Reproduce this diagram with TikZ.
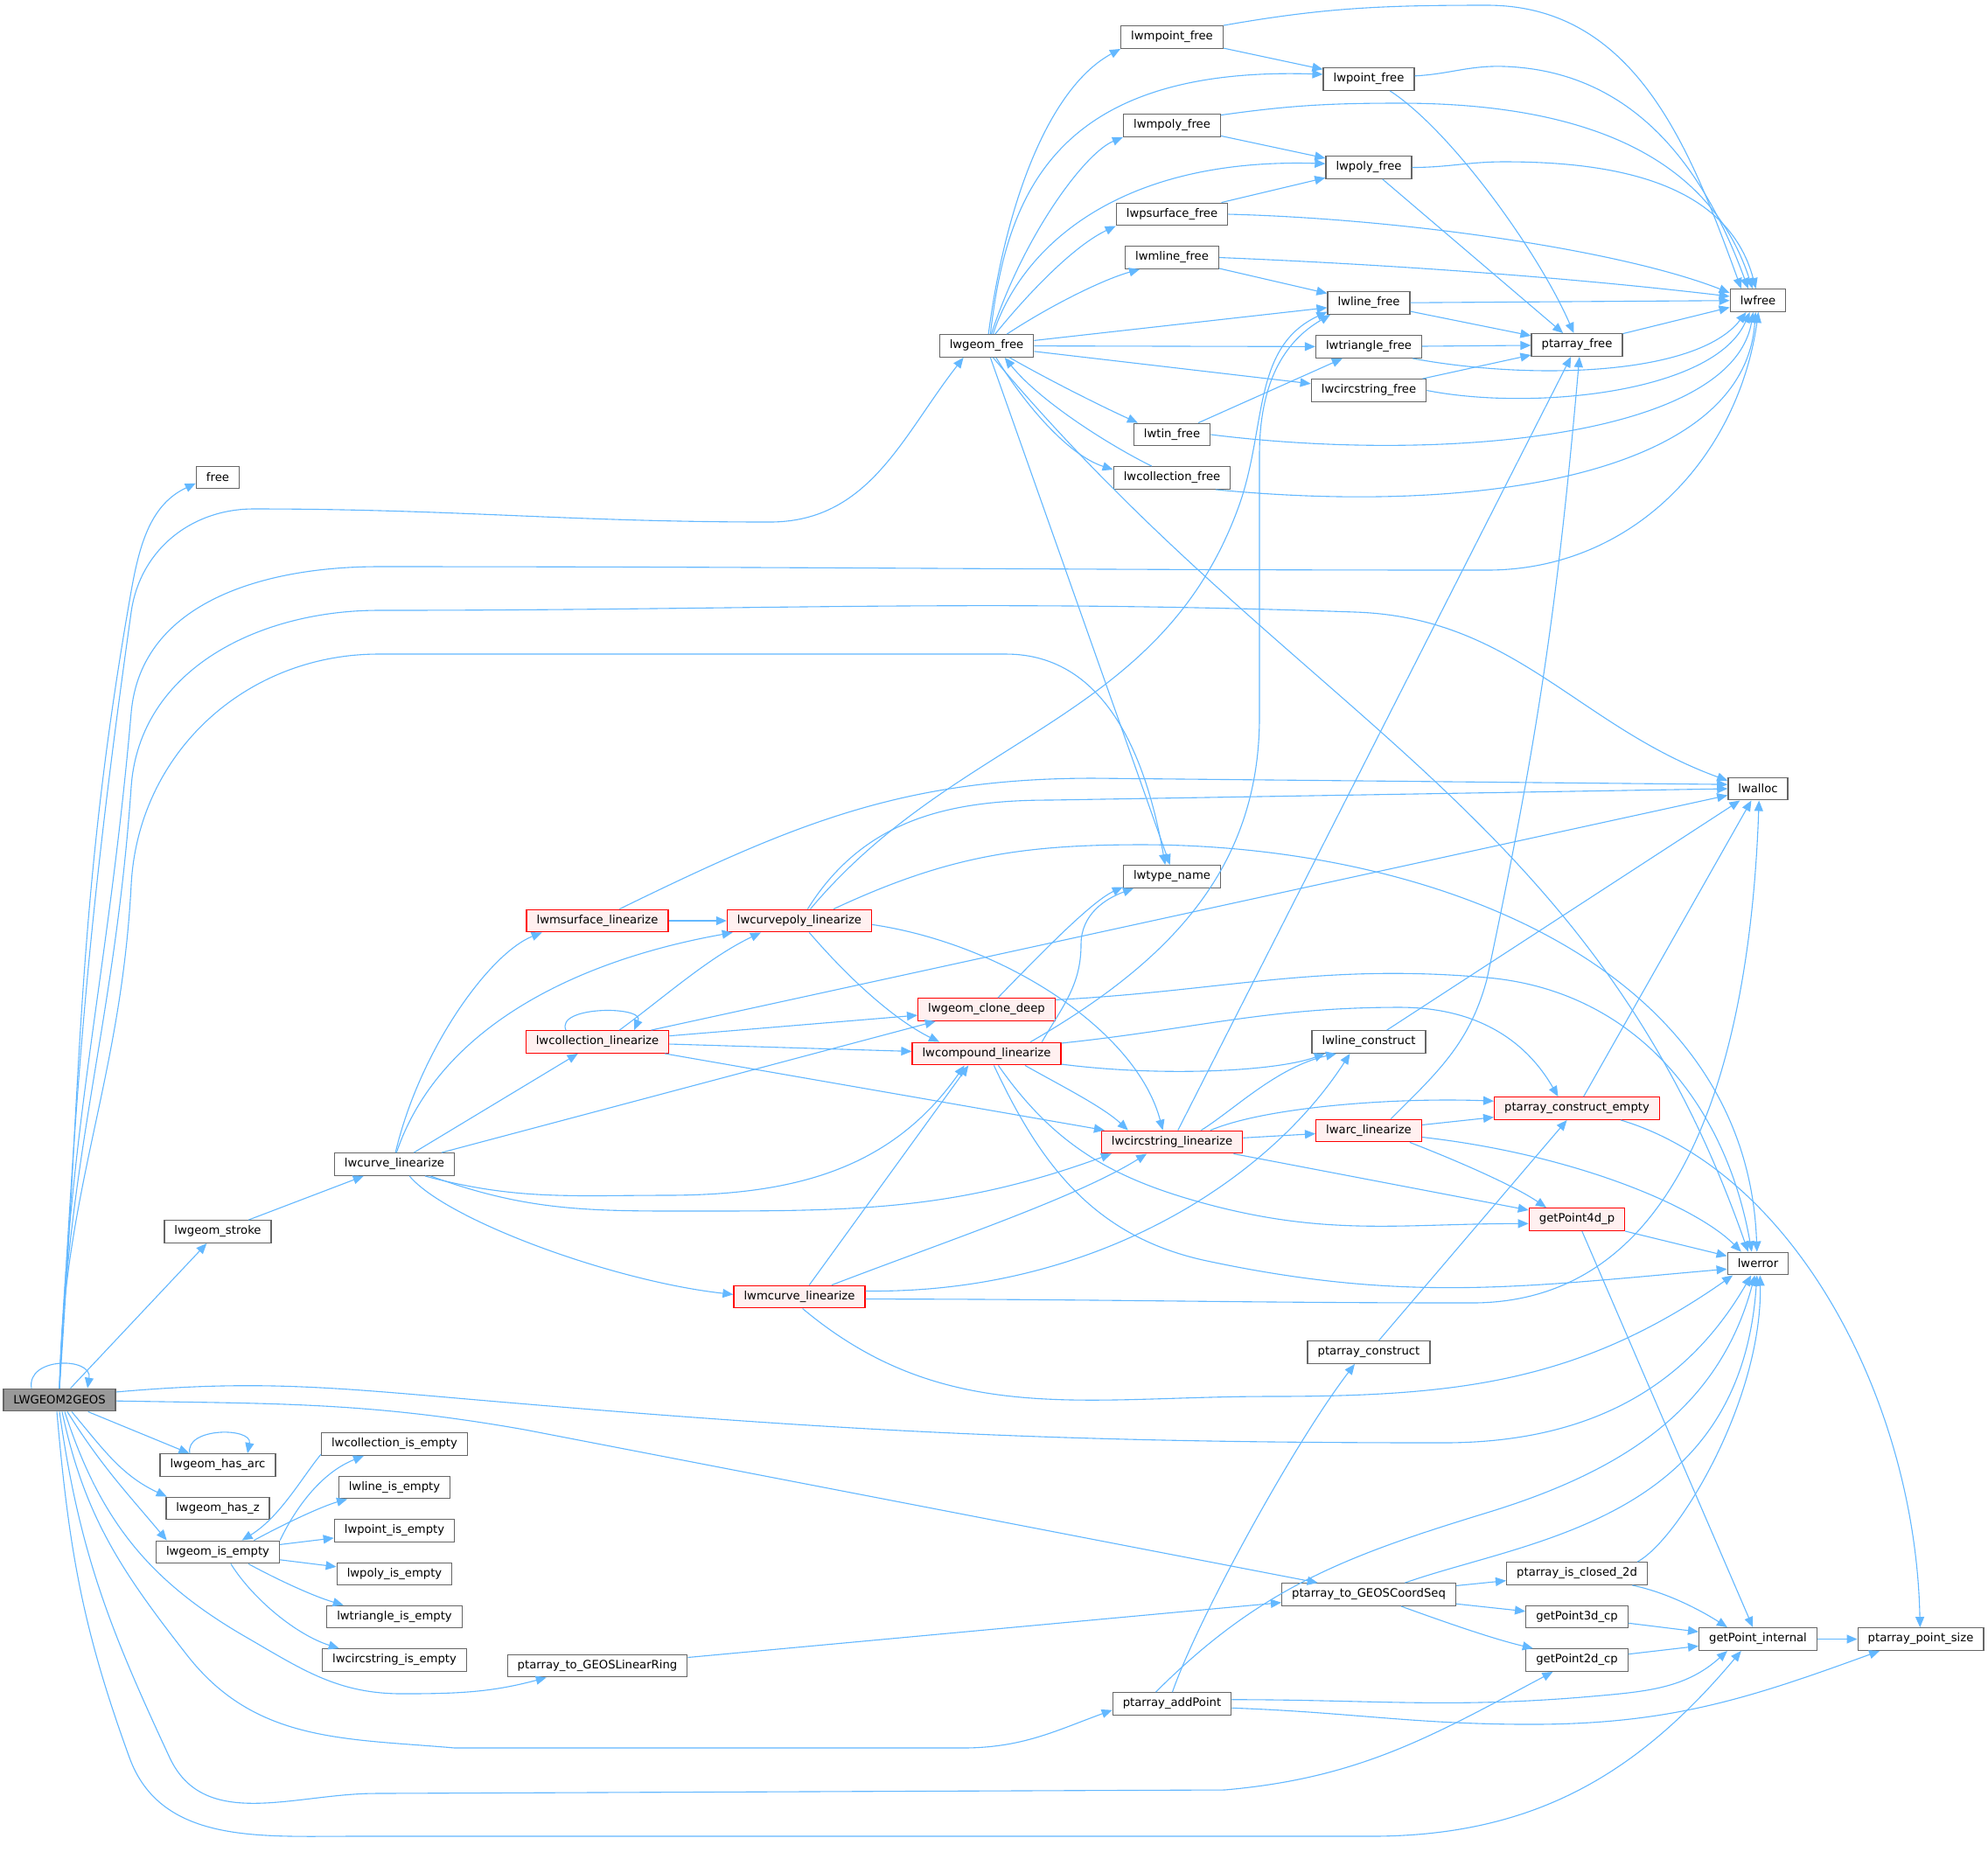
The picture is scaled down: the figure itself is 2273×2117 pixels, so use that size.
\documentclass[tikz,border=0pt]{standalone}
\usepackage{fontspec}
\setmainfont{DejaVu Sans}
\usetikzlibrary{arrows.meta,calc}
\definecolor{eb}{HTML}{63B8FF}
\definecolor{ng}{HTML}{666666}
\definecolor{rf}{HTML}{FFF0F0}
\definecolor{gf}{HTML}{999999}
\newcommand\nfs{\fontsize{6.6pt}{8pt}\selectfont}
\tikzset{
  nb/.style={draw=ng, line width=0.7pt, fill=white, minimum height=12.75pt, inner xsep=5.75pt, inner ysep=0pt, font=\nfs, text=black},
  rb/.style={nb, draw=red, fill=rf},
  gb/.style={nb, fill=gf},
  arr/.style={draw=eb, line width=0.55pt, -{Triangle[length=6pt,width=5pt]}}
}
\begin{document}
\begin{tikzpicture}[x=0.5pt,y=0.5pt]
\useasboundingbox (0,0) rectangle (2273,-2117);
\fill[white] (0,0) rectangle (2273,-2117);
% nodes
\node[gb] (g) at (68,-1601) {LWGEOM2GEOS};
\node[nb] (free) at (249,-546) {free};
\node[nb] (gfree) at (1128,-395.5) {lwgeom\_free};
\node[nb] (mpointf) at (1340,-42.5) {lwmpoint\_free};
\node[nb] (pointf) at (1565,-90.5) {lwpoint\_free};
\node[nb] (mpolyf) at (1340,-143.5) {lwmpoly\_free};
\node[nb] (polyf) at (1565,-191.5) {lwpoly\_free};
\node[nb] (psurff) at (1340,-245) {lwpsurface\_free};
\node[nb] (mlinef) at (1340,-294.5) {lwmline\_free};
\node[nb] (linef) at (1565,-346.5) {lwline\_free};
\node[nb] (trif) at (1565,-396.5) {lwtriangle\_free};
\node[nb] (circf) at (1565,-446.5) {lwcircstring\_free};
\node[nb] (tinf) at (1340,-497) {lwtin\_free};
\node[nb] (collf) at (1340,-546.5) {lwcollection\_free};
\node[nb] (lwfree) at (2010,-343.5) {lwfree};
\node[nb] (paf) at (1803,-394.5) {ptarray\_free};
\node[nb] (alloc) at (2010,-902) {lwalloc};
\node[nb] (tname) at (1340,-1002.5) {lwtype\_name};
\node[rb] (msurf) at (683,-1053) {lwmsurface\_linearize};
\node[rb] (cpoly) at (914,-1053) {lwcurvepoly\_linearize};
\node[rb] (clone) at (1128,-1154.5) {lwgeom\_clone\_deep};
\node[rb] (colllin) at (683,-1191.5) {lwcollection\_linearize};
\node[rb] (comp) at (1128,-1205) {lwcompound\_linearize};
\node[nb] (lcons) at (1565,-1191.5) {lwline\_construct};
\node[rb] (circlin) at (1340,-1306) {lwcircstring\_linearize};
\node[rb] (arc) at (1565,-1293) {lwarc\_linearize};
\node[rb] (pce) at (1803,-1267.5) {ptarray\_construct\_empty};
\node[nb] (curve) at (451,-1331.5) {lwcurve\_linearize};
\node[nb] (stroke) at (249,-1408.5) {lwgeom\_stroke};
\node[rb] (gp4d) at (1803,-1394.5) {getPoint4d\_p};
\node[nb] (lwerror) at (2010,-1445) {lwerror};
\node[rb] (mcurve) at (914,-1483) {lwmcurve\_linearize};
\node[nb] (pcons) at (1565,-1546.5) {ptarray\_construct};
\node[nb] (hasarc) at (249,-1675.5) {lwgeom\_has\_arc};
\node[nb] (hasz) at (249,-1725) {lwgeom\_has\_z};
\node[nb] (isempty) at (249,-1775) {lwgeom\_is\_empty};
\node[nb] (collie) at (451,-1651.5) {lwcollection\_is\_empty};
\node[nb] (lineie) at (451,-1701) {lwline\_is\_empty};
\node[nb] (pointie) at (451,-1750.5) {lwpoint\_is\_empty};
\node[nb] (polyie) at (451,-1800) {lwpoly\_is\_empty};
\node[nb] (trie) at (451,-1849) {lwtriangle\_is\_empty};
\node[nb] (circie) at (451,-1898.5) {lwcircstring\_is\_empty};
\node[nb] (linring) at (683,-1905) {ptarray\_to\_GEOSLinearRing};
\node[nb] (coordseq) at (1565,-1823.5) {ptarray\_to\_GEOSCoordSeq};
\node[nb] (closed) at (1803,-1799.5) {ptarray\_is\_closed\_2d};
\node[nb] (gp3d) at (1803,-1849) {getPoint3d\_cp};
\node[nb] (gp2d) at (1803,-1898.5) {getPoint2d\_cp};
\node[nb] (gpint) at (2010,-1874.5) {getPoint\_internal};
\node[nb] (pps) at (2196,-1874.5) {ptarray\_point\_size};
\node[nb] (addpt) at (1340,-1948.5) {ptarray\_addPoint};

% ---- LWGEOM2GEOS
\draw[arr] ($(g.north)+(-32,0)$) .. controls +(-6,36) and +(6,36) .. ($(g.north)+(32,0)$);
\draw[arr] (g.north) to[out=86,in=260] (150,-676) to[out=80,in=205] (free.195);
\draw[arr] (g.north) to[out=87,in=262] (150,-700) to[out=82,in=180] (290,-582) to[out=0,in=180] (880,-597) to[out=0,in=232] (gfree.207);
\draw[arr] (g.north) to[out=88,in=265] (150,-815) to[out=85,in=180] (433,-648) to[out=0,in=180] (1700,-652) to[out=0,in=262] (lwfree.272);
\draw[arr] (g.north) to[out=88,in=266] (150,-900) to[out=86,in=180] (433,-698) to[out=0,in=178] (1550,-700) to[out=-2,in=160] (alloc.165);
\draw[arr] (g.north) to[out=89,in=267] (150,-1012) to[out=87,in=180] (433,-748) to[out=0,in=180] (1150,-748) to[out=0,in=100] (tname.120);
\draw[arr] (g) -- (stroke);
\draw[arr] (g.8) to[out=5,in=175] (500,-1597) to[out=-5,in=180] (1650,-1650) to[out=0,in=240] (lwerror.240);
\draw[arr] (g.359) to[out=-1,in=170] (600,-1635) -- (coordseq.167);
\draw[arr] (g) -- (hasarc);
\draw[arr] ($(g.south)+(14,0)$) to[out=-50,in=155] (hasz.167);
\draw[arr] ($(g.south)+(9,0)$) to[out=-58,in=130] (isempty.167);
\draw[arr] ($(g.south)+(6,0)$) to[out=-72,in=150] (281,-1872) to[out=-30,in=180] (460,-1937) to[out=0,in=195] (linring.193);
\draw[arr] ($(g.south)+(3,0)$) to[out=-78,in=128] (214,-1893) to[out=-52,in=175] (520,-1999) -- (1100,-1999) to[out=0,in=200] (addpt.186);
\draw[arr] (g.south) to[out=-82,in=115] (194,-2010) to[out=-65,in=180] (430,-2051) -- (1400,-2047) to[out=5,in=208] (gp2d.206);
\draw[arr] ($(g.south)+(-3,0)$) to[out=-85,in=110] (148,-2010) to[out=-70,in=180] (400,-2100) -- (1567,-2100) to[out=0,in=230] (gpint.215);

% ---- lwgeom_free fan
\draw[arr] (gfree.81) .. controls (1150,-230) and (1200,-100) .. (mpointf.south west);
\draw[arr] (gfree.72) .. controls (1150,-230) and (1200,-75) .. (pointf.174);
\draw[arr] (gfree.68) .. controls (1170,-270) and (1240,-175) .. (mpolyf.south west);
\draw[arr] (gfree.61) .. controls (1165,-290) and (1270,-180) .. (polyf.175);
\draw[arr] (gfree.54) .. controls (1180,-330) and (1230,-280) .. (psurff.south west);
\draw[arr] (gfree.30) .. controls (1200,-350) and (1260,-320) .. (mlinef.200);
\draw[arr] (gfree) -- (linef);
\draw[arr] (gfree) -- (trif);
\draw[arr] (gfree) -- (circf);
\draw[arr] (gfree.333) .. controls (1200,-435) and (1260,-465) .. (tinf.161);
\draw[arr] (gfree.309) .. controls (1170,-460) and (1220,-520) .. (collf.172);
\draw[arr] (collf.150) .. controls (1270,-510) and (1190,-460) .. (gfree.327);
\draw[arr] (gfree.288) -- (tname.100);
\draw[arr] (gfree.299) .. controls (1482,-822) and (1822,-925) .. (lwerror.130);

% ---- free subgraph
\draw[arr] (mpointf) -- (pointf);
\draw[arr] (mpointf.north east) to[out=10,in=180] (1700,-6) to[out=0,in=110] (lwfree.145);
\draw[arr] (pointf.4) to[out=3,in=178] (1720,-76) to[out=-2,in=110] (lwfree.130);
\draw[arr] (pointf.331) .. controls (1660,-150) and (1760,-290) .. (paf.105);
\draw[arr] (mpolyf) -- (polyf);
\draw[arr] (mpolyf.12) to[out=8,in=180] (1600,-118) to[out=0,in=108] (lwfree.115);
\draw[arr] (polyf.east) to[out=0,in=180] (1720,-185) to[out=0,in=105] (lwfree.100);
\draw[arr] (polyf) -- (paf);
\draw[arr] (psurff) -- (polyf);
\draw[arr] (psurff.east) .. controls (1600,-250) and (1850,-285) .. (lwfree.165);
\draw[arr] (mlinef) -- (linef);
\draw[arr] (mlinef.east) .. controls (1600,-303) and (1800,-318) .. (lwfree.172);
\draw[arr] (linef) -- (lwfree);
\draw[arr] (linef) -- (paf);
\draw[arr] (trif) -- (paf);
\draw[arr] (trif.345) .. controls (1750,-435) and (1940,-430) .. (lwfree.225);
\draw[arr] (circf) -- (paf);
\draw[arr] (circf.east) .. controls (1750,-470) and (1960,-450) .. (lwfree.235);
\draw[arr] (tinf) -- (trif);
\draw[arr] (tinf.east) .. controls (1650,-530) and (1980,-500) .. (lwfree.248);
\draw[arr] (collf.345) .. controls (1700,-590) and (1995,-540) .. (lwfree.258);
\draw[arr] (paf) -- (lwfree);

% ---- linearize
\draw[arr] (stroke) -- (curve);
\draw[arr] (curve.85) .. controls (480,-1200) and (560,-1090) .. (msurf.192);
\draw[arr] (curve.80) .. controls (500,-1180) and (650,-1100) .. (cpoly.190);
\draw[arr] (curve) -- (colllin);
\draw[arr] (curve.14) -- (clone.193);
\draw[arr] (curve.339) to[out=-15,in=180] (760,-1367) to[out=0,in=235] (comp.208);
\draw[arr] (curve.342) to[out=-20,in=180] (793,-1385) to[out=0,in=200] (circlin.191);
\draw[arr] (curve.322) .. controls (510,-1395) and (700,-1465) .. (mcurve.178);
\draw[arr] (msurf) -- (cpoly);
\draw[arr] (msurf.28) to[out=26,in=180] (1250,-890) -- (alloc.172);
\draw[arr] (cpoly.55) to[out=58,in=180] (1200,-915) -- (alloc.180);
\draw[arr] (cpoly.47) to[out=50,in=250] (1416,-580) to[out=70,in=205] (linef.192);
\draw[arr] (cpoly.19) to[out=25,in=180] (1305,-966) to[out=0,in=92] (lwerror.95);
\draw[arr] (cpoly.310) .. controls (980,-1130) and (1030,-1170) .. (comp.166);
\draw[arr] (cpoly.357) .. controls (1150,-1080) and (1300,-1180) .. (circlin.128);
\draw[arr] ($(colllin.north)+(-36,0)$) .. controls +(-12,28) and +(12,28) .. ($(colllin.north)+(42,0)$);
\draw[arr] (colllin.28) .. controls (760,-1140) and (810,-1095) .. (cpoly.197);
\draw[arr] (colllin) -- (clone);
\draw[arr] (colllin) -- (comp);
\draw[arr] (colllin) -- (circlin);
\draw[arr] (colllin) -- (alloc);
\draw[arr] (clone.46) .. controls (1200,-1080) and (1250,-1030) .. (tname.192);
\draw[arr] (clone.8) to[out=3,in=175] (1700,-1118) to[out=-5,in=100] (lwerror.118);
\draw[arr] (comp.15) to[out=30,in=270] (1440,-820) -- (1440,-520) to[out=90,in=210] (linef.197);
\draw[arr] (comp.12) to[out=60,in=270] (1236,-1080) to[out=90,in=200] (tname.197);
\draw[arr] (comp.352) .. controls (1330,-1232) and (1460,-1225) .. (lcons.195);
\draw[arr] (comp.8) to[out=6,in=180] (1600,-1152) to[out=0,in=120] (pce.148);
\draw[arr] (comp.343) .. controls (1210,-1240) and (1260,-1265) .. (circlin.165);
\draw[arr] (comp.315) to[out=-55,in=165] (1380,-1377) to[out=-15,in=180] (gp4d.185);
\draw[arr] (comp.302) to[out=-65,in=168] (1380,-1442) to[out=-12,in=185] (lwerror.190);
\draw[arr] (lcons) -- (alloc);
\draw[arr] (mcurve.50) -- (comp.213);
\draw[arr] (mcurve.20) .. controls (1080,-1420) and (1230,-1370) .. (circlin.205);
\draw[arr] (mcurve.5) .. controls (1250,-1480) and (1450,-1350) .. (lcons.212);
\draw[arr] (mcurve.358) to[out=0,in=180] (1683,-1490) to[out=0,in=268] (alloc.275);
\draw[arr] (mcurve.285) to[out=-40,in=180] (1450,-1597) to[out=0,in=215] (lwerror.205);
\draw[arr] (circlin) -- (paf);
\draw[arr] (circlin.22) .. controls (1410,-1270) and (1460,-1220) .. (lcons.200);
\draw[arr] (circlin.17) .. controls (1450,-1265) and (1600,-1255) .. (pce.175);
\draw[arr] (circlin) -- (arc);
\draw[arr] (circlin) -- (gp4d);
\draw[arr] (arc.28) to[out=45,in=255] (1700,-1120) to[out=78,in=265] (paf.282);
\draw[arr] (arc) -- (pce);
\draw[arr] (arc.344) .. controls (1660,-1325) and (1730,-1355) .. (gp4d.159);
\draw[arr] (arc.353) .. controls (1800,-1320) and (1940,-1380) .. (lwerror.145);
\draw[arr] (pce) -- (alloc);
\draw[arr] (pce.345) .. controls (2050,-1340) and (2190,-1600) .. (pps.93);
\draw[arr] (gp4d) -- (lwerror);
\draw[arr] (gp4d) -- (gpint);
\draw[arr] (pcons) -- (pce);

% ---- bottom right
\draw[arr] (linring) -- (coordseq);
\draw[arr] (coordseq) -- (closed);
\draw[arr] (coordseq) -- (gp3d);
\draw[arr] (coordseq.340) .. controls (1660,-1858) and (1710,-1875) .. (gp2d.165);
\draw[arr] (coordseq.18) .. controls (1750,-1760) and (1990,-1740) .. (lwerror.265);
\draw[arr] (closed.348) .. controls (1910,-1822) and (1950,-1845) .. (gpint.159);
\draw[arr] (closed.11) .. controls (1920,-1760) and (2015,-1600) .. (lwerror.280);
\draw[arr] (gp3d) -- (gpint);
\draw[arr] (gp2d) -- (gpint);
\draw[arr] (gpint) -- (pps);
\draw[arr] (addpt.88) .. controls (1370,-1850) and (1480,-1650) .. (pcons.220);
\draw[arr] (addpt.144) to[out=45,in=197] (1700,-1730) to[out=17,in=255] (lwerror.255);
\draw[arr] (addpt.4) to[out=0,in=185] (1820,-1940) to[out=5,in=222] (gpint.201);
\draw[arr] (addpt.356) to[out=-2,in=180] (1750,-1972) to[out=0,in=200] (pps.196);

% ---- is_empty cluster
\draw[arr] ($(hasarc.north)+(-32,0)$) .. controls +(-6,30) and +(6,30) .. ($(hasarc.north)+(34,0)$);
\draw[arr] (isempty.north east) .. controls (340,-1720) and (370,-1683) .. (collie.201);
\draw[arr] (collie.188) .. controls (345,-1690) and (320,-1735) .. (isempty.26);
\draw[arr] (isempty.18) .. controls (330,-1740) and (370,-1722) .. (lineie.194);
\draw[arr] (isempty) -- (pointie);
\draw[arr] (isempty) -- (polyie);
\draw[arr] (isempty.339) .. controls (320,-1808) and (360,-1826) .. (trie.167);
\draw[arr] (isempty.318) .. controls (290,-1830) and (340,-1870) .. (circie.168);
\end{tikzpicture}
\end{document}
